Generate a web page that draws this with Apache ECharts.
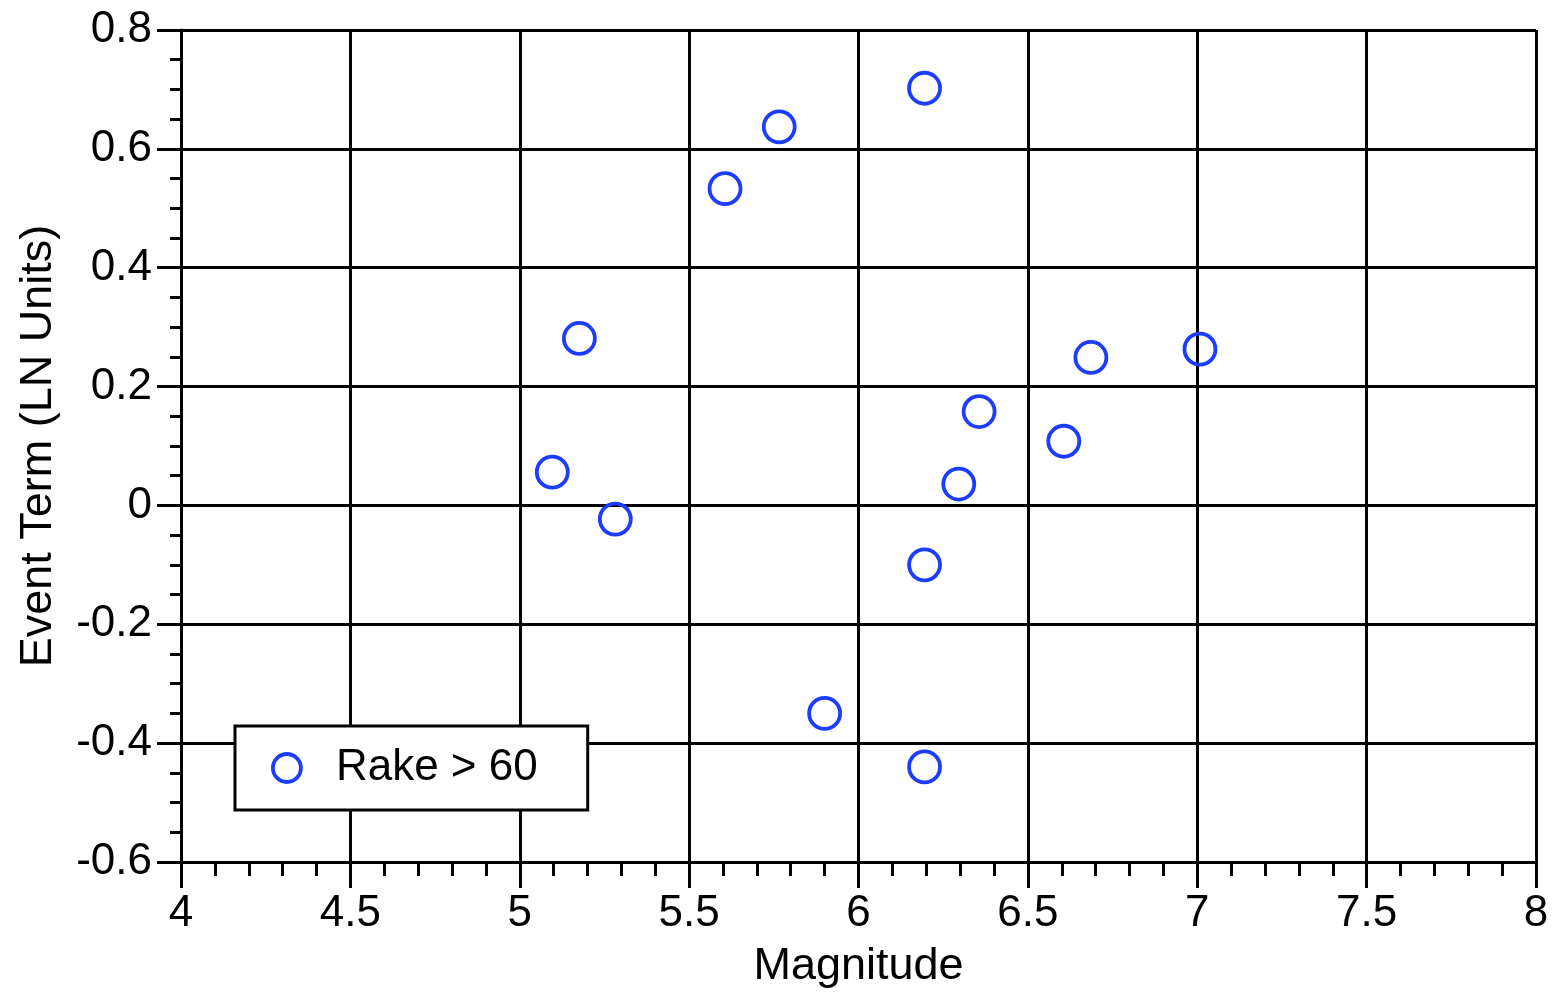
<!DOCTYPE html>
<html>
<head>
<meta charset="utf-8">
<script src="https://cdn.jsdelivr.net/npm/echarts@6/dist/echarts.min.js"></script>
<style>
html,body{margin:0;padding:0;background:#fff;}
#chart{width:1556px;height:994px;}
</style>
</head>
<body>
<div id="chart"></div>
<script>
var seriesName = 'Rake > 60';
var magnitude = [6.195, 5.766, 5.606, 5.176, 5.096, 5.282, 7.008, 6.686, 6.356, 6.606, 6.296, 6.195, 5.900, 6.195];
var eventTerm = [0.702, 0.637, 0.533, 0.281, 0.056, -0.023, 0.263, 0.249, 0.158, 0.108, 0.036, -0.100, -0.350, -0.440];
var xTitle = 'Magnitude';
var yTitle = 'Event Term (LN Units)';

var blue = '#1c3cff';
var font = "'Liberation Sans', Arial, Helvetica, sans-serif";
var pts = magnitude.map(function (m, i) { return [m, eventTerm[i]]; });

var chart = echarts.init(document.getElementById('chart'), null, {renderer: 'canvas'});
chart.setOption({
  backgroundColor: '#fff',
  animation: false,
  textStyle: {fontFamily: font},
  grid: {left: 181, right: 20, top: 30, bottom: 130, containLabel: false},
  legend: {
    left: 235, top: 726,
    orient: 'vertical',
    backgroundColor: '#fff',
    borderColor: '#000',
    borderWidth: 3,
    borderRadius: 0,
    padding: [20, 50, 20, 36],
    itemWidth: 28, itemHeight: 28,
    data: [{name: seriesName, icon: 'circle', itemStyle: {color: '#fff', borderColor: blue, borderWidth: 3.8}}],
    textStyle: {fontSize: 44, color: '#000', fontFamily: font, padding: [0, 0, 0, 30]}
  },
  xAxis: {
    type: 'value', min: 4, max: 8, interval: 0.5,
    name: xTitle, nameLocation: 'middle', nameGap: 82,
    nameTextStyle: {fontSize: 45, color: '#000', fontFamily: font},
    axisLine: {show: true, onZero: false, lineStyle: {color: '#000', width: 3}},
    axisTick: {show: true, inside: false, length: 26, lineStyle: {color: '#000', width: 3}},
    minorTick: {show: true, splitNumber: 5, length: 14, lineStyle: {color: '#000', width: 3}},
    axisLabel: {fontSize: 44, color: '#000', margin: 30, fontFamily: font},
    splitLine: {show: true, lineStyle: {color: '#000', width: 3}}
  },
  yAxis: {
    type: 'value', min: -0.6, max: 0.8, interval: 0.2,
    name: yTitle, nameLocation: 'middle', nameGap: 120,
    nameTextStyle: {fontSize: 45, color: '#000', fontFamily: font},
    axisLine: {show: true, onZero: false, lineStyle: {color: '#000', width: 3}},
    axisTick: {show: true, inside: false, length: 24, lineStyle: {color: '#000', width: 3}},
    minorTick: {show: true, splitNumber: 4, length: 11, lineStyle: {color: '#000', width: 3}},
    axisLabel: {fontSize: 44, color: '#000', margin: 29, fontFamily: font,
      formatter: function (v) { return Math.abs(v) < 1e-9 ? '0' : String(Math.round(v * 10) / 10); }},
    splitLine: {show: true, lineStyle: {color: '#000', width: 3}}
  },
  series: [{
    name: seriesName,
    type: 'scatter',
    data: pts,
    symbol: 'circle',
    symbolSize: 31,
    itemStyle: {color: 'rgba(255,255,255,0)', borderColor: blue, borderWidth: 3.8, opacity: 1},
    z: 5
  }]
});
</script>
</body>
</html>
